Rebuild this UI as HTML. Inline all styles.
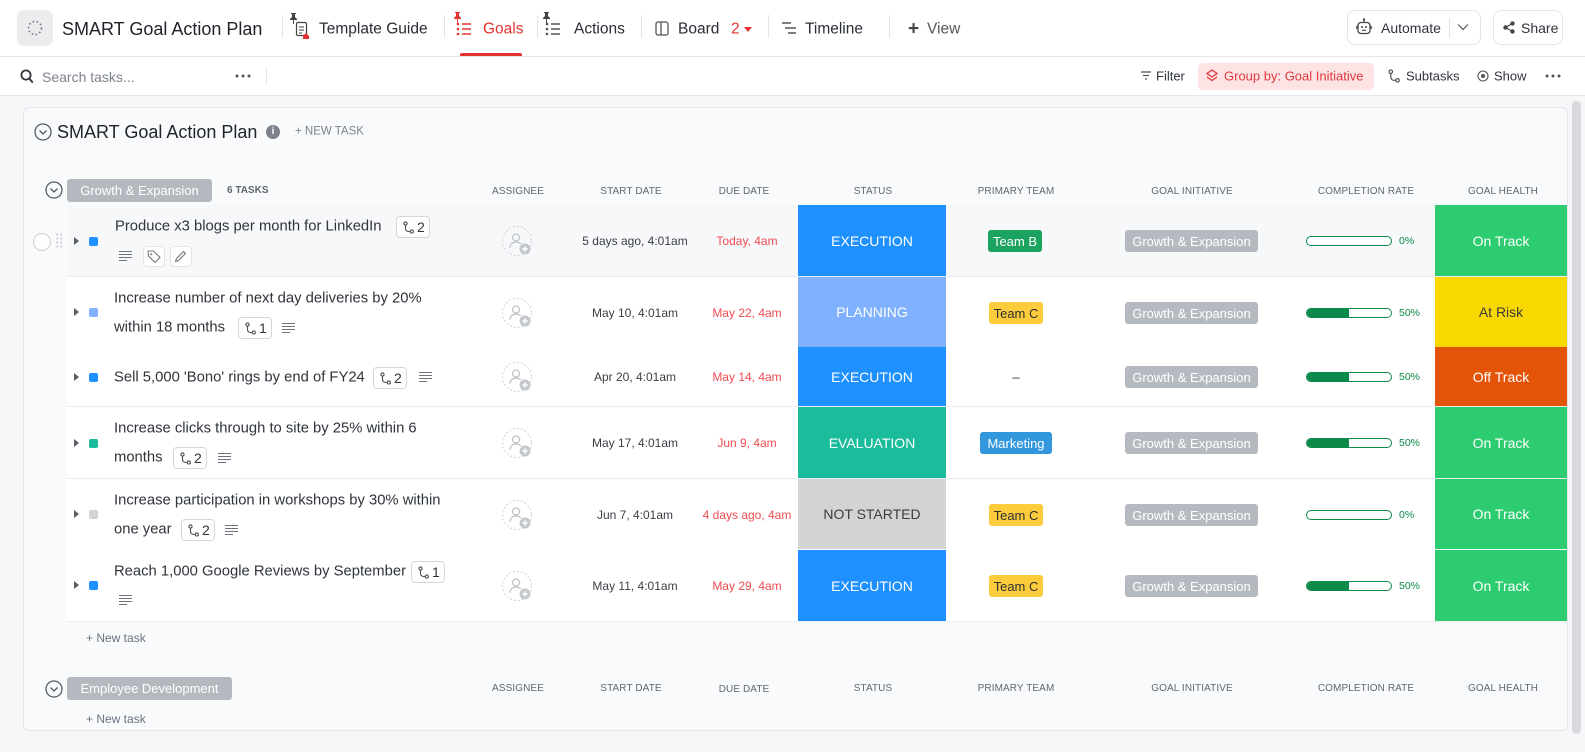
<!DOCTYPE html>
<html><head><meta charset="utf-8">
<style>
*{box-sizing:border-box;margin:0;padding:0}
body{width:1585px;height:752px;overflow:hidden;background:#f6f7f9;font-family:"Liberation Sans",Arial,sans-serif;color:#292d34;position:relative}
.a{position:absolute}
.t{position:absolute;white-space:nowrap;transform:translateY(-50%);line-height:1}
.tc{position:absolute;white-space:nowrap;transform:translate(-50%,-50%);line-height:1}
.sep{position:absolute;width:1px;background:#e3e4e8}
.tab{font-size:15.5px;color:#292d34}
.tb{font-size:13px;color:#2f343b}
.hd{font-size:10px;color:#5f6773;letter-spacing:0.1px}
.nm{font-size:14.8px;color:#2f343b}
.sb{position:absolute;height:22px;width:34px;border:1px solid #d3d6db;border-radius:4px;background:#fff}
.sb svg{position:absolute;left:6px;top:4px}
.sb span{position:absolute;left:20px;top:3px;font-size:14px;color:#2f343b;line-height:1}
.tri{position:absolute;left:74px;width:0;height:0;border-left:5px solid #5a5f66;border-top:4px solid transparent;border-bottom:4px solid transparent}
.sq{position:absolute;left:89px;width:9px;height:9px;border-radius:2px}
.dt{font-size:12px;color:#3b3f45}
.du{font-size:12px;color:#ef4b50}
.st{position:absolute;left:798px;width:148px;display:flex;align-items:center;justify-content:center;color:#fff;font-size:14px}
.hl{position:absolute;left:1435px;width:132px;display:flex;align-items:center;justify-content:center;color:#fff;font-size:14px}
.gi{position:absolute;left:1125px;width:133px;height:22px;background:#b5bac1;border-radius:3px;color:#fff;font-size:13px;display:flex;align-items:center;justify-content:center}
.tm{position:absolute;height:22px;border-radius:3px;font-size:13px;display:flex;align-items:center;justify-content:center;transform:translateX(-50%)}
.bar{position:absolute;left:1306px;width:86px;height:10px;border:1.5px solid #0b8a4a;border-radius:6px;overflow:hidden;background:#fff}
.bar i{position:absolute;left:0;top:0;bottom:0;background:#0b8a4a}
.pc{font-size:10.5px;color:#0b8a4a}
.row{position:absolute;left:67px;width:1500px;border-bottom:1px solid #eaecef}
</style></head><body>

<!-- top bar -->
<div class="a" style="left:0;top:0;width:1585px;height:57px;background:#fff;border-bottom:1px solid #e6e7ea"></div>
<div class="a" style="left:17px;top:10px;width:36px;height:36px;background:#ebecee;border-radius:7px"></div>
<svg class="a" style="left:26px;top:19px" width="18" height="18" viewBox="0 0 18 18"><circle cx="9" cy="9" r="6.5" fill="none" stroke="#6d727a" stroke-width="1.5" stroke-dasharray="1.6 2.4"/></svg>
<div class="t" style="left:62px;top:29px;font-size:18px;color:#1f2329">SMART Goal Action Plan</div>
<div class="sep" style="left:282px;top:15px;height:23px"></div>

<svg class="a" style="left:289px;top:12px" width="24" height="28" viewBox="0 0 24 28"><path d="M2 1h5v1H6v3l2 2v1H1V7l2-2V2H2z M4 8h1v4H4z" fill="#444"/><rect x="7.5" y="10.5" width="10" height="13" rx="1.5" fill="none" stroke="#444" stroke-width="1.2"/><path d="M10 15h5M10 18h5M10 21h3" stroke="#444" stroke-width="1"/><path d="M14 24l3-3 3 3v3h-6z" fill="#e5342f"/></svg>
<div class="t tab" style="left:319px;top:29px">Template Guide</div>
<div class="sep" style="left:444px;top:15px;height:23px"></div>

<svg class="a" style="left:454px;top:12px" width="20" height="26" viewBox="0 0 20 26"><path d="M1 0h5v1H5v3l2 2v1H0V6l2-2V1H1z M3 7h1v4H3z" fill="#e5342f"/><circle cx="4" cy="12" r="1.3" fill="#e5342f"/><circle cx="4" cy="17" r="1.3" fill="#e5342f"/><circle cx="4" cy="22" r="1.3" fill="#e5342f"/><path d="M8 12h9M8 17h9M8 22h9" stroke="#e5342f" stroke-width="1.4"/></svg>
<div class="t tab" style="left:483px;top:29px;color:#e5342f">Goals</div>
<div class="a" style="left:460px;top:53px;width:62px;height:3px;background:#e5342f;border-radius:2px 2px 0 0"></div>
<div class="sep" style="left:537px;top:15px;height:23px"></div>

<svg class="a" style="left:543px;top:12px" width="20" height="26" viewBox="0 0 20 26"><path d="M1 0h5v1H5v3l2 2v1H0V6l2-2V1H1z M3 7h1v4H3z" fill="#444"/><circle cx="4" cy="12" r="1.3" fill="#555"/><circle cx="4" cy="17" r="1.3" fill="#555"/><circle cx="4" cy="22" r="1.3" fill="#555"/><path d="M8 12h9M8 17h9M8 22h9" stroke="#555" stroke-width="1.4"/></svg>
<div class="t tab" style="left:574px;top:29px">Actions</div>
<div class="sep" style="left:641px;top:15px;height:23px"></div>

<svg class="a" style="left:655px;top:21px" width="14" height="15" viewBox="0 0 14 15"><rect x="1" y="1" width="12" height="13" rx="2" fill="none" stroke="#555" stroke-width="1.3"/><path d="M6 1v13" stroke="#555" stroke-width="1.3"/></svg>
<div class="t tab" style="left:678px;top:29px">Board</div>
<div class="t" style="left:731px;top:29px;font-size:15.5px;color:#e5342f">2</div>
<div class="a" style="left:744px;top:27px;width:0;height:0;border-left:4px solid transparent;border-right:4px solid transparent;border-top:5px solid #e5342f"></div>
<div class="sep" style="left:768px;top:15px;height:23px"></div>

<svg class="a" style="left:781px;top:21px" width="16" height="14" viewBox="0 0 16 14"><path d="M1 2h9M4 7h11M7 12h8" stroke="#555" stroke-width="1.4"/></svg>
<div class="t tab" style="left:805px;top:29px">Timeline</div>
<div class="sep" style="left:889px;top:15px;height:23px"></div>
<div class="t" style="left:908px;top:29px;font-size:19px;color:#444;font-weight:bold">+</div>
<div class="t tab" style="left:927px;top:29px;color:#555">View</div>

<div class="a" style="left:1347px;top:10px;width:134px;height:35px;border:1px solid #e2e3e6;border-radius:8px;background:#fff"></div>
<svg class="a" style="left:1356px;top:18px" width="16" height="18" viewBox="0 0 16 18"><path d="M8 1v3" stroke="#444" stroke-width="1.2"/><circle cx="8" cy="1.5" r="1.2" fill="#444"/><rect x="2" y="4.5" width="12" height="11" rx="3" fill="none" stroke="#444" stroke-width="1.3"/><circle cx="6" cy="9" r="1" fill="#444"/><circle cx="10" cy="9" r="1" fill="#444"/><path d="M6 12.3h4" stroke="#444" stroke-width="1.1"/><path d="M0.8 8v3M15.2 8v3" stroke="#444" stroke-width="1.2"/></svg>
<div class="t" style="left:1381px;top:28px;font-size:14px;color:#2f343b">Automate</div>
<div class="a" style="left:1449px;top:18px;width:1px;height:20px;background:#e2e3e6"></div>
<svg class="a" style="left:1457px;top:23px" width="12" height="8" viewBox="0 0 12 8"><path d="M1 1.5l5 5 5-5" fill="none" stroke="#555" stroke-width="1.2"/></svg>

<div class="a" style="left:1493px;top:10px;width:70px;height:35px;border:1px solid #e2e3e6;border-radius:8px;background:#fff"></div>
<svg class="a" style="left:1503px;top:21px" width="12" height="13" viewBox="0 0 12 13"><circle cx="9.5" cy="2.5" r="2.2" fill="#444"/><circle cx="2.5" cy="6.5" r="2.2" fill="#444"/><circle cx="9.5" cy="10.5" r="2.2" fill="#444"/><path d="M9.5 2.5L2.5 6.5 9.5 10.5" stroke="#444" stroke-width="1.2" fill="none"/></svg>
<div class="t" style="left:1521px;top:28px;font-size:14px;color:#2f343b">Share</div>

<!-- second bar -->
<div class="a" style="left:0;top:57px;width:1585px;height:39px;background:#fff;border-bottom:1px solid #e6e7ea"></div>
<svg class="a" style="left:20px;top:69px" width="14" height="15" viewBox="0 0 14 15"><circle cx="6" cy="6" r="4.6" fill="none" stroke="#2f343b" stroke-width="1.8"/><path d="M9.3 9.6l3.5 4" stroke="#2f343b" stroke-width="1.9"/></svg>
<div class="t" style="left:42px;top:77px;font-size:14px;color:#7c828d">Search tasks...</div>
<svg class="a" style="left:235px;top:73px" width="16" height="6" viewBox="0 0 16 6"><circle cx="2" cy="3" r="1.5" fill="#555"/><circle cx="8" cy="3" r="1.5" fill="#555"/><circle cx="14" cy="3" r="1.5" fill="#555"/></svg>
<div class="sep" style="left:266px;top:67px;height:18px"></div>

<svg class="a" style="left:1140px;top:70px" width="12" height="11" viewBox="0 0 12 11"><path d="M1 2h10M3 5.5h6M5 9h2" stroke="#555" stroke-width="1.3"/></svg>
<div class="t tb" style="left:1156px;top:76px">Filter</div>
<div class="a" style="left:1198px;top:63px;width:176px;height:27px;background:#fde3e4;border-radius:5px"></div>
<svg class="a" style="left:1206px;top:69px" width="12" height="14" viewBox="0 0 12 14"><path d="M6 1l5 3.5-5 3.5-5-3.5z" fill="none" stroke="#e0393e" stroke-width="1.3"/><path d="M1 8l5 3.5 5-3.5" fill="none" stroke="#e0393e" stroke-width="1.3"/></svg>
<div class="t" style="left:1224px;top:76px;font-size:13px;color:#e0393e">Group by: Goal Initiative</div>
<svg class="a" style="left:1388px;top:69px" width="12" height="14" viewBox="0 0 11 13"><circle cx="2.5" cy="2.5" r="1.6" fill="none" stroke="#4a4f57" stroke-width="1.1"/><path d="M2.5 4.1v3.4a3 3 0 0 0 3 3h1.5" fill="none" stroke="#4a4f57" stroke-width="1.1"/><circle cx="8.8" cy="10.5" r="1.6" fill="none" stroke="#4a4f57" stroke-width="1.1"/></svg>
<div class="t tb" style="left:1406px;top:76px">Subtasks</div>
<svg class="a" style="left:1477px;top:70px" width="12" height="12" viewBox="0 0 12 12"><circle cx="6" cy="6" r="5" fill="none" stroke="#555" stroke-width="1.1"/><circle cx="6" cy="6" r="2" fill="#555"/></svg>
<div class="t tb" style="left:1494px;top:76px">Show</div>
<svg class="a" style="left:1545px;top:73px" width="16" height="6" viewBox="0 0 16 6"><circle cx="2" cy="3" r="1.5" fill="#555"/><circle cx="8" cy="3" r="1.5" fill="#555"/><circle cx="14" cy="3" r="1.5" fill="#555"/></svg>

<!-- scrollbar -->
<div class="a" style="left:1572px;top:101px;width:9px;height:633px;background:#d9d9dd;border-radius:5px"></div>

<!-- card -->
<div class="a" style="left:23px;top:107px;width:1545px;height:624px;background:#f9fafb;border:1px solid #e4e6ea;border-radius:6px"></div>
<svg class="a" style="left:34px;top:123px" width="18" height="18" viewBox="0 0 18 18"><circle cx="9" cy="9" r="8" fill="none" stroke="#555b63" stroke-width="1.3"/><path d="M5.5 7.5l3.5 3.5 3.5-3.5" fill="none" stroke="#555b63" stroke-width="1.3"/></svg>
<div class="t" style="left:57px;top:132px;font-size:18px;color:#1f2329">SMART Goal Action Plan</div>
<div class="a" style="left:266px;top:125px;width:14px;height:14px;border-radius:50%;background:#7c828d;color:#fff;font-size:10px;font-weight:bold;text-align:center;line-height:14px">i</div>
<div class="t" style="left:295px;top:132px;font-size:11.5px;color:#7c828d">+ NEW TASK</div>

<!-- group 1 header -->
<svg class="a" style="left:45px;top:181px" width="18" height="18" viewBox="0 0 18 18"><circle cx="9" cy="9" r="8" fill="none" stroke="#555b63" stroke-width="1.3"/><path d="M5.5 7.5l3.5 3.5 3.5-3.5" fill="none" stroke="#555b63" stroke-width="1.3"/></svg>
<div class="a" style="left:67px;top:179px;width:145px;height:23px;background:#b4b9c0;border-radius:3px;color:#fff;font-size:13px;display:flex;align-items:center;justify-content:center">Growth &amp; Expansion</div>
<div class="t" style="left:227px;top:191px;font-size:10px;font-weight:bold;color:#5f6672">6 TASKS</div>
<div class="tc hd" style="left:518px;top:192px">ASSIGNEE</div>
<div class="tc hd" style="left:631px;top:192px">START DATE</div>
<div class="tc hd" style="left:744px;top:192px">DUE DATE</div>
<div class="tc hd" style="left:873px;top:192px">STATUS</div>
<div class="tc hd" style="left:1016px;top:192px">PRIMARY TEAM</div>
<div class="tc hd" style="left:1192px;top:192px">GOAL INITIATIVE</div>
<div class="tc hd" style="left:1366px;top:192px">COMPLETION RATE</div>
<div class="tc hd" style="left:1503px;top:192px">GOAL HEALTH</div>

<!-- ROW 1 -->
<div class="row" style="top:205px;height:72px;background:#f7f8fa"></div>
<div class="a" style="left:33px;top:233px;width:18px;height:18px;border-radius:50%;border:1px solid #cdd0d5;background:#fff"></div>
<svg class="a" style="left:56px;top:233px" width="7" height="16" viewBox="0 0 7 16"><g fill="#c5c8cd"><circle cx="1.2" cy="1.5" r="1"/><circle cx="5.2" cy="1.5" r="1"/><circle cx="1.2" cy="5.5" r="1"/><circle cx="5.2" cy="5.5" r="1"/><circle cx="1.2" cy="9.5" r="1"/><circle cx="5.2" cy="9.5" r="1"/><circle cx="1.2" cy="13.5" r="1"/><circle cx="5.2" cy="13.5" r="1"/></g></svg>
<div class="tri" style="top:237px"></div>
<div class="sq" style="top:237px;background:#1e90ff"></div>
<div class="t nm" style="left:115px;top:227px">Produce x3 blogs per month for LinkedIn</div>
<div class="sb" style="left:396px;top:216px"><svg width="11" height="13" viewBox="0 0 11 13"><circle cx="2.5" cy="2.5" r="1.6" fill="none" stroke="#4a4f57" stroke-width="1.1"/><path d="M2.5 4.1v3.4a3 3 0 0 0 3 3h1.5" fill="none" stroke="#4a4f57" stroke-width="1.1"/><circle cx="8.8" cy="10.5" r="1.6" fill="none" stroke="#4a4f57" stroke-width="1.1"/></svg><span>2</span></div>
<svg class="a" style="left:119px;top:251px" width="13" height="11"><path d="M0 0.5h13M0 3.5h13M0 6.5h13M0 9.5h8" stroke="#6f747c" stroke-width="1"/></svg>
<div class="a" style="left:143px;top:246px;width:22px;height:21px;border:1px solid #e1e3e7;border-radius:4px;background:#fff"></div>
<svg class="a" style="left:147px;top:250px" width="14" height="13" viewBox="0 0 14 13"><path d="M1 1h5.5l6.5 6.5-5 5L1.5 6z" fill="none" stroke="#777" stroke-width="1.1"/><circle cx="4.3" cy="4.2" r="1" fill="#777"/></svg>
<div class="a" style="left:170px;top:246px;width:22px;height:21px;border:1px solid #e1e3e7;border-radius:4px;background:#fff"></div>
<svg class="a" style="left:175px;top:250px" width="12" height="13" viewBox="0 0 12 13"><path d="M8.5 1.5l2 2-7 7-3 1 1-3z" fill="none" stroke="#777" stroke-width="1.1"/></svg>
<svg class="a" style="left:502px;top:226px" width="32" height="32" viewBox="0 0 32 32"><circle cx="15" cy="15" r="14.5" fill="none" stroke="#cfd2d6" stroke-dasharray="2 2"/><circle cx="14" cy="11.5" r="3.5" fill="none" stroke="#bfc3c8" stroke-width="1.2"/><path d="M8 22c0-4 3-6 6-6s4 1 5 2" fill="none" stroke="#bfc3c8" stroke-width="1.2"/><circle cx="23" cy="23" r="5.5" fill="#c4c7cc"/><path d="M23 20.3v5.4M20.3 23h5.4" stroke="#fff" stroke-width="1.5"/></svg>
<div class="tc dt" style="left:635px;top:241px">5 days ago, 4:01am</div>
<div class="tc du" style="left:747px;top:241px">Today, 4am</div>
<div class="st" style="top:205px;height:71px;background:#1e90ff">EXECUTION</div>
<div class="tm" style="left:1015px;top:230px;width:54px;background:#1aa35e;color:#fff">Team B</div>
<div class="gi" style="top:230px">Growth &amp; Expansion</div>
<div class="bar" style="top:236px"><i style="width:0%"></i></div>
<div class="t pc" style="left:1399px;top:241px">0%</div>
<div class="hl" style="top:205px;height:71px;background:#2ecc71">On Track</div>

<!-- ROW 2 -->
<div class="row" style="top:277px;height:71px;background:#fff;border-bottom-color:#fff"></div>
<div class="tri" style="top:308px"></div>
<div class="sq" style="top:308px;background:#81b1ff"></div>
<div class="t nm" style="left:114px;top:299px">Increase number of next day deliveries by 20%</div>
<div class="t nm" style="left:114px;top:328px">within 18 months</div>
<div class="sb" style="left:238px;top:317px"><svg width="11" height="13" viewBox="0 0 11 13"><circle cx="2.5" cy="2.5" r="1.6" fill="none" stroke="#4a4f57" stroke-width="1.1"/><path d="M2.5 4.1v3.4a3 3 0 0 0 3 3h1.5" fill="none" stroke="#4a4f57" stroke-width="1.1"/><circle cx="8.8" cy="10.5" r="1.6" fill="none" stroke="#4a4f57" stroke-width="1.1"/></svg><span>1</span></div>
<svg class="a" style="left:282px;top:323px" width="13" height="11"><path d="M0 0.5h13M0 3.5h13M0 6.5h13M0 9.5h8" stroke="#6f747c" stroke-width="1"/></svg>
<svg class="a" style="left:502px;top:298px" width="32" height="32" viewBox="0 0 32 32"><circle cx="15" cy="15" r="14.5" fill="none" stroke="#cfd2d6" stroke-dasharray="2 2"/><circle cx="14" cy="11.5" r="3.5" fill="none" stroke="#bfc3c8" stroke-width="1.2"/><path d="M8 22c0-4 3-6 6-6s4 1 5 2" fill="none" stroke="#bfc3c8" stroke-width="1.2"/><circle cx="23" cy="23" r="5.5" fill="#c4c7cc"/><path d="M23 20.3v5.4M20.3 23h5.4" stroke="#fff" stroke-width="1.5"/></svg>
<div class="tc dt" style="left:635px;top:313px">May 10, 4:01am</div>
<div class="tc du" style="left:747px;top:313px">May 22, 4am</div>
<div class="st" style="top:277px;height:70px;background:#80b1ff">PLANNING</div>
<div class="tm" style="left:1016px;top:302px;width:54px;background:#fccc3c;color:#2f2f2f">Team C</div>
<div class="gi" style="top:302px">Growth &amp; Expansion</div>
<div class="bar" style="top:308px"><i style="width:50%"></i></div>
<div class="t pc" style="left:1399px;top:313px">50%</div>
<div class="hl" style="top:277px;height:70px;background:#f8d800;color:#3a3a3a">At Risk</div>

<!-- ROW 3 -->
<div class="row" style="top:347px;height:60px;background:#fff"></div>
<div class="tri" style="top:373px"></div>
<div class="sq" style="top:373px;background:#1e90ff"></div>
<div class="t nm" style="left:114px;top:378px">Sell 5,000 'Bono' rings by end of FY24</div>
<div class="sb" style="left:373px;top:367px"><svg width="11" height="13" viewBox="0 0 11 13"><circle cx="2.5" cy="2.5" r="1.6" fill="none" stroke="#4a4f57" stroke-width="1.1"/><path d="M2.5 4.1v3.4a3 3 0 0 0 3 3h1.5" fill="none" stroke="#4a4f57" stroke-width="1.1"/><circle cx="8.8" cy="10.5" r="1.6" fill="none" stroke="#4a4f57" stroke-width="1.1"/></svg><span>2</span></div>
<svg class="a" style="left:419px;top:372px" width="13" height="11"><path d="M0 0.5h13M0 3.5h13M0 6.5h13M0 9.5h8" stroke="#6f747c" stroke-width="1"/></svg>
<svg class="a" style="left:502px;top:362px" width="32" height="32" viewBox="0 0 32 32"><circle cx="15" cy="15" r="14.5" fill="none" stroke="#cfd2d6" stroke-dasharray="2 2"/><circle cx="14" cy="11.5" r="3.5" fill="none" stroke="#bfc3c8" stroke-width="1.2"/><path d="M8 22c0-4 3-6 6-6s4 1 5 2" fill="none" stroke="#bfc3c8" stroke-width="1.2"/><circle cx="23" cy="23" r="5.5" fill="#c4c7cc"/><path d="M23 20.3v5.4M20.3 23h5.4" stroke="#fff" stroke-width="1.5"/></svg>
<div class="tc dt" style="left:635px;top:377px">Apr 20, 4:01am</div>
<div class="tc du" style="left:747px;top:377px">May 14, 4am</div>
<div class="st" style="top:347px;height:59px;background:#1e90ff">EXECUTION</div>
<div class="tc" style="left:1016px;top:377px;font-size:13px;color:#2f343b">–</div>
<div class="gi" style="top:366px">Growth &amp; Expansion</div>
<div class="bar" style="top:372px"><i style="width:50%"></i></div>
<div class="t pc" style="left:1399px;top:377px">50%</div>
<div class="hl" style="top:347px;height:59px;background:#e35409">Off Track</div>

<!-- ROW 4 -->
<div class="row" style="top:407px;height:72px;background:#fff"></div>
<div class="tri" style="top:439px"></div>
<div class="sq" style="top:439px;background:#1bbc9c"></div>
<div class="t nm" style="left:114px;top:429px">Increase clicks through to site by 25% within 6</div>
<div class="t nm" style="left:114px;top:458px">months</div>
<div class="sb" style="left:173px;top:447px"><svg width="11" height="13" viewBox="0 0 11 13"><circle cx="2.5" cy="2.5" r="1.6" fill="none" stroke="#4a4f57" stroke-width="1.1"/><path d="M2.5 4.1v3.4a3 3 0 0 0 3 3h1.5" fill="none" stroke="#4a4f57" stroke-width="1.1"/><circle cx="8.8" cy="10.5" r="1.6" fill="none" stroke="#4a4f57" stroke-width="1.1"/></svg><span>2</span></div>
<svg class="a" style="left:218px;top:453px" width="13" height="11"><path d="M0 0.5h13M0 3.5h13M0 6.5h13M0 9.5h8" stroke="#6f747c" stroke-width="1"/></svg>
<svg class="a" style="left:502px;top:428px" width="32" height="32" viewBox="0 0 32 32"><circle cx="15" cy="15" r="14.5" fill="none" stroke="#cfd2d6" stroke-dasharray="2 2"/><circle cx="14" cy="11.5" r="3.5" fill="none" stroke="#bfc3c8" stroke-width="1.2"/><path d="M8 22c0-4 3-6 6-6s4 1 5 2" fill="none" stroke="#bfc3c8" stroke-width="1.2"/><circle cx="23" cy="23" r="5.5" fill="#c4c7cc"/><path d="M23 20.3v5.4M20.3 23h5.4" stroke="#fff" stroke-width="1.5"/></svg>
<div class="tc dt" style="left:635px;top:443px">May 17, 4:01am</div>
<div class="tc du" style="left:747px;top:443px">Jun 9, 4am</div>
<div class="st" style="top:407px;height:71px;background:#1bbc9c">EVALUATION</div>
<div class="tm" style="left:1016px;top:432px;width:72px;background:#3397dd;color:#fff">Marketing</div>
<div class="gi" style="top:432px">Growth &amp; Expansion</div>
<div class="bar" style="top:438px"><i style="width:50%"></i></div>
<div class="t pc" style="left:1399px;top:443px">50%</div>
<div class="hl" style="top:407px;height:71px;background:#2ecc71">On Track</div>

<!-- ROW 5 -->
<div class="row" style="top:479px;height:71px;background:#fff;border-bottom-color:#fff"></div>
<div class="tri" style="top:510px"></div>
<div class="sq" style="top:510px;background:#d3d3d3"></div>
<div class="t nm" style="left:114px;top:501px">Increase participation in workshops by 30% within</div>
<div class="t nm" style="left:114px;top:530px">one year</div>
<div class="sb" style="left:181px;top:519px"><svg width="11" height="13" viewBox="0 0 11 13"><circle cx="2.5" cy="2.5" r="1.6" fill="none" stroke="#4a4f57" stroke-width="1.1"/><path d="M2.5 4.1v3.4a3 3 0 0 0 3 3h1.5" fill="none" stroke="#4a4f57" stroke-width="1.1"/><circle cx="8.8" cy="10.5" r="1.6" fill="none" stroke="#4a4f57" stroke-width="1.1"/></svg><span>2</span></div>
<svg class="a" style="left:225px;top:525px" width="13" height="11"><path d="M0 0.5h13M0 3.5h13M0 6.5h13M0 9.5h8" stroke="#6f747c" stroke-width="1"/></svg>
<svg class="a" style="left:502px;top:500px" width="32" height="32" viewBox="0 0 32 32"><circle cx="15" cy="15" r="14.5" fill="none" stroke="#cfd2d6" stroke-dasharray="2 2"/><circle cx="14" cy="11.5" r="3.5" fill="none" stroke="#bfc3c8" stroke-width="1.2"/><path d="M8 22c0-4 3-6 6-6s4 1 5 2" fill="none" stroke="#bfc3c8" stroke-width="1.2"/><circle cx="23" cy="23" r="5.5" fill="#c4c7cc"/><path d="M23 20.3v5.4M20.3 23h5.4" stroke="#fff" stroke-width="1.5"/></svg>
<div class="tc dt" style="left:635px;top:515px">Jun 7, 4:01am</div>
<div class="tc du" style="left:747px;top:515px">4 days ago, 4am</div>
<div class="st" style="top:479px;height:70px;background:#d3d3d3;color:#3d3d3d">NOT STARTED</div>
<div class="tm" style="left:1016px;top:504px;width:54px;background:#fccc3c;color:#2f2f2f">Team C</div>
<div class="gi" style="top:504px">Growth &amp; Expansion</div>
<div class="bar" style="top:510px"><i style="width:0%"></i></div>
<div class="t pc" style="left:1399px;top:515px">0%</div>
<div class="hl" style="top:479px;height:70px;background:#2ecc71">On Track</div>

<!-- ROW 6 -->
<div class="row" style="top:550px;height:72px;background:#fff"></div>
<div class="tri" style="top:581px"></div>
<div class="sq" style="top:581px;background:#1e90ff"></div>
<div class="t nm" style="left:114px;top:572px">Reach 1,000 Google Reviews by September</div>
<div class="sb" style="left:411px;top:561px"><svg width="11" height="13" viewBox="0 0 11 13"><circle cx="2.5" cy="2.5" r="1.6" fill="none" stroke="#4a4f57" stroke-width="1.1"/><path d="M2.5 4.1v3.4a3 3 0 0 0 3 3h1.5" fill="none" stroke="#4a4f57" stroke-width="1.1"/><circle cx="8.8" cy="10.5" r="1.6" fill="none" stroke="#4a4f57" stroke-width="1.1"/></svg><span>1</span></div>
<svg class="a" style="left:119px;top:595px" width="13" height="11"><path d="M0 0.5h13M0 3.5h13M0 6.5h13M0 9.5h8" stroke="#6f747c" stroke-width="1"/></svg>
<svg class="a" style="left:502px;top:571px" width="32" height="32" viewBox="0 0 32 32"><circle cx="15" cy="15" r="14.5" fill="none" stroke="#cfd2d6" stroke-dasharray="2 2"/><circle cx="14" cy="11.5" r="3.5" fill="none" stroke="#bfc3c8" stroke-width="1.2"/><path d="M8 22c0-4 3-6 6-6s4 1 5 2" fill="none" stroke="#bfc3c8" stroke-width="1.2"/><circle cx="23" cy="23" r="5.5" fill="#c4c7cc"/><path d="M23 20.3v5.4M20.3 23h5.4" stroke="#fff" stroke-width="1.5"/></svg>
<div class="tc dt" style="left:635px;top:586px">May 11, 4:01am</div>
<div class="tc du" style="left:747px;top:586px">May 29, 4am</div>
<div class="st" style="top:550px;height:71px;background:#1e90ff">EXECUTION</div>
<div class="tm" style="left:1016px;top:575px;width:54px;background:#fccc3c;color:#2f2f2f">Team C</div>
<div class="gi" style="top:575px">Growth &amp; Expansion</div>
<div class="bar" style="top:581px"><i style="width:50%"></i></div>
<div class="t pc" style="left:1399px;top:586px">50%</div>
<div class="hl" style="top:550px;height:71px;background:#2ecc71">On Track</div>

<div class="t" style="left:86px;top:638px;font-size:12px;color:#6b7280">+ New task</div>

<!-- group 2 -->
<svg class="a" style="left:45px;top:680px" width="18" height="18" viewBox="0 0 18 18"><circle cx="9" cy="9" r="8" fill="none" stroke="#555b63" stroke-width="1.3"/><path d="M5.5 7.5l3.5 3.5 3.5-3.5" fill="none" stroke="#555b63" stroke-width="1.3"/></svg>
<div class="a" style="left:67px;top:677px;width:165px;height:23px;background:#b4b9c0;border-radius:3px;color:#fff;font-size:13px;display:flex;align-items:center;justify-content:center">Employee Development</div>
<div class="tc hd" style="left:518px;top:689px">ASSIGNEE</div>
<div class="tc hd" style="left:631px;top:689px">START DATE</div>
<div class="tc hd" style="left:744px;top:690px">DUE DATE</div>
<div class="tc hd" style="left:873px;top:689px">STATUS</div>
<div class="tc hd" style="left:1016px;top:689px">PRIMARY TEAM</div>
<div class="tc hd" style="left:1192px;top:689px">GOAL INITIATIVE</div>
<div class="tc hd" style="left:1366px;top:689px">COMPLETION RATE</div>
<div class="tc hd" style="left:1503px;top:689px">GOAL HEALTH</div>
<div class="t" style="left:86px;top:719px;font-size:12px;color:#6b7280">+ New task</div>

</body></html>
